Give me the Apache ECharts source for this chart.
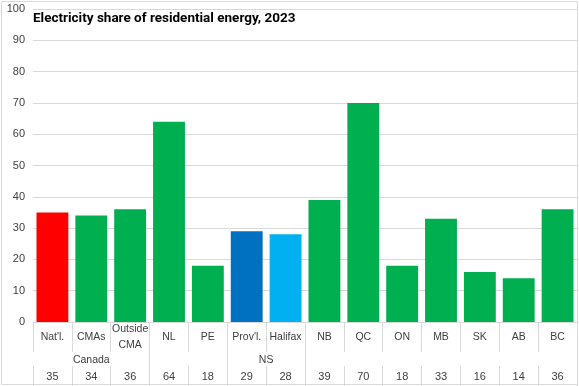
<!DOCTYPE html>
<html><head><meta charset="utf-8">
<script src="https://cdn.jsdelivr.net/npm/echarts@6/dist/echarts.min.js"></script>
<style>html,body{margin:0;padding:0;background:#fff}#c{width:579px;height:386px}</style>
</head><body><div id="c"></div>
<script>
const categories = ["Nat'l.", "CMAs", "Outside\nCMA", "NL", "PE", "Prov'l.", "Halifax", "NB", "QC", "ON", "MB", "SK", "AB", "BC"];
const values = [35, 34, 36, 64, 18, 29, 28, 39, 70, 18, 33, 16, 14, 36];
const barColors = ["#FF0000", "#00B050", "#00B050", "#00B050", "#00B050", "#0070C0", "#00B0F0", "#00B050", "#00B050", "#00B050", "#00B050", "#00B050", "#00B050", "#00B050"];
const groupLabels = ["Canada", "NS"];
const groupCenters = [1.5, 6];
const groupBounds = [3, 5, 7];

const FONT = "'Liberation Sans', Arial, sans-serif";
const TXT = "#404040";
const LINE = "#d9d9d9";
const chart = echarts.init(document.getElementById('c'));
chart.setOption({
  animation: false,
  title: {
    text: "Electricity share of residential energy, 2023",
    left: 28, top: 7,
    textStyle: { fontFamily: "Roboto, sans-serif", fontSize: 13.5, fontWeight: 'bold', color: '#000' }
  },
  grid: { left: 33, right: 2, top: 9, bottom: 64, outerBoundsMode: 'none', containLabel: false },
  xAxis: [
    {
      type: 'category', data: categories, position: 'bottom',
      axisLine: { lineStyle: { color: LINE } },
      axisTick: { show: true, interval: 0, length: 30, lineStyle: { color: LINE } },
      axisLabel: { interval: 0, margin: 15, verticalAlign: 'middle', lineHeight: 16,
        fontFamily: FONT, fontSize: 10.5, color: TXT }
    },
    {
      type: 'category', data: values.map(String), offset: 44, position: 'bottom',
      axisLine: { show: false },
      axisTick: { show: true, interval: 0, length: 20, lineStyle: { color: LINE } },
      axisLabel: { interval: 0, margin: 11, verticalAlign: 'middle',
        fontFamily: FONT, fontSize: 11, color: TXT }
    },
    {
      type: 'value', min: 0, max: 14, offset: 30, position: 'bottom',
      axisLine: { show: false },
      splitLine: { show: false },
      axisTick: { show: true, customValues: groupBounds, length: 14, lineStyle: { color: LINE } },
      axisLabel: { customValues: groupCenters, margin: 8, verticalAlign: 'middle',
        fontFamily: FONT, fontSize: 10.5, color: TXT,
        formatter: v => groupLabels[groupCenters.indexOf(v)] || '' }
    }
  ],
  yAxis: {
    type: 'value', min: 0, max: 100, interval: 10,
    axisLine: { show: false }, axisTick: { show: false },
    splitLine: { lineStyle: { color: LINE } },
    axisLabel: { margin: 8, fontFamily: FONT, fontSize: 11, color: TXT }
  },
  series: [{
    type: 'bar', xAxisIndex: 0,
    data: values.map((v, i) => ({ value: v, itemStyle: { color: barColors[i] } })),
    barCategoryGap: '18%'
  }],
  graphic: [{
    type: 'rect', shape: { x: 1.5, y: 1.5, width: 576, height: 383 },
    style: { fill: 'none', stroke: LINE, lineWidth: 1 }, silent: true, z: -1
  }]
});
</script></body></html>
